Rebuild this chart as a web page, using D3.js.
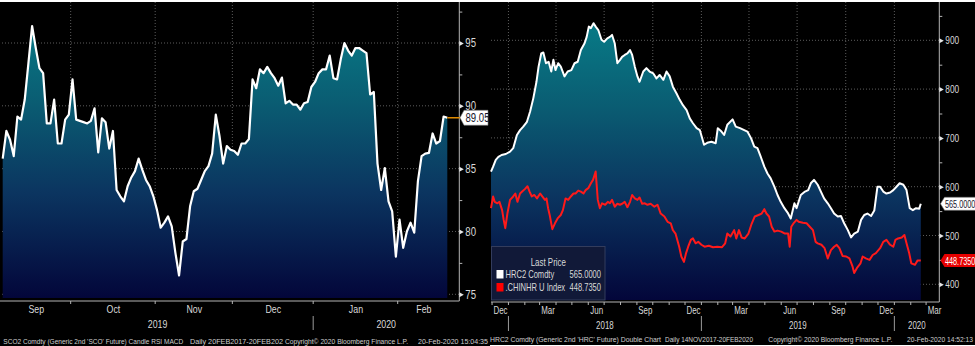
<!DOCTYPE html>
<html><head><meta charset="utf-8">
<script src="https://cdn.jsdelivr.net/npm/d3@7"></script>
<style>
html,body{margin:0;padding:0;background:#fff;}
svg{display:block;}
text{font-family:"Liberation Sans",Arial,sans-serif;}
</style></head><body>
<svg id="c" width="975" height="346"></svg>
<script>
// ---------------- LEFT CHART: SCO2 Comdty (daily sessions) ----------------
const scoStart = "2019-09-04";
const scoEnd = "2020-02-20";
const scoValues = [85.8,88.0,87.3,86.0,89.15,88.9,90.5,93.4,96.35,94.6,
  93.0,92.6,88.6,88.6,90.5,87.0,87.0,88.9,89.3,92.1,
  88.9,88.8,88.7,88.6,88.8,89.8,86.3,89.0,88.7,86.6,
  88.0,83.3,82.8,82.4,83.6,84.3,84.8,85.8,84.9,84.1,
  83.6,82.8,81.7,80.3,80.7,81.2,80.4,78.3,76.5,79.2,
  79.4,82.0,83.2,83.4,84.1,84.8,85.2,86.2,89.3,87.6,
  85.4,86.8,86.5,86.4,86.1,87.0,87.0,87.35,92.1,91.4,
  92.9,92.6,93.1,92.6,92.2,91.6,92.25,90.2,90.4,90.1,
  90.1,89.7,90.2,90.3,91.5,91.9,92.6,92.9,92.9,94.0,
  92.2,92.1,93.7,95.0,94.4,94.0,94.6,94.6,94.4,94.2,
  90.9,91.1,85.4,83.3,85.05,82.4,81.6,78.0,80.95,78.7,
  80.0,80.7,79.9,84.0,86.0,86.2,86.25,87.8,87.0,87.2,
  89.15,89.05];
const scoLast = "89.05";
const scoYTicks = [75,80,85,90,95];
const scoYMinor = [77.5,82.5,87.5,92.5,97.5];
const scoMonths = ["Sep","Oct","Nov","Dec","Jan","Feb"];
const scoYears = ["2019","2020"];
const scoFooter = ["SCO2 Comdty (Generic 2nd 'SCO' Future) Candle RSI MACD","Daily 20FEB2017-20FEB202","Copyright\u00A9 2020 Bloomberg Finance L.P.","20-Feb-2020 15:04:35"];

// ---------------- RIGHT CHART: HRC2 Comdty & .CHINHR U Index ----------------
const hrcDates = ["2017-11-29","2017-12-03","2017-12-08","2017-12-13","2017-12-19","2017-12-27","2018-01-04","2018-01-10","2018-01-17","2018-01-23",
"2018-01-29","2018-02-05","2018-02-11","2018-02-17","2018-02-23","2018-02-27","2018-03-04","2018-03-08","2018-03-13","2018-03-18",
"2018-03-23","2018-03-27","2018-03-31","2018-04-05","2018-04-10","2018-04-17","2018-04-23","2018-04-30","2018-05-06","2018-05-12",
"2018-05-18","2018-05-25","2018-05-29","2018-06-02","2018-06-06","2018-06-11","2018-06-15","2018-06-20","2018-06-26","2018-07-01",
"2018-07-07","2018-07-12","2018-07-16","2018-07-21","2018-07-26","2018-07-31","2018-08-04","2018-08-09","2018-08-14","2018-08-19",
"2018-08-23","2018-08-28","2018-09-02","2018-09-06","2018-09-13","2018-09-19","2018-09-25","2018-10-02","2018-10-08","2018-10-14",
"2018-10-21","2018-10-27","2018-11-02","2018-11-08","2018-11-15","2018-11-21","2018-11-27","2018-12-04","2018-12-10","2018-12-16",
"2018-12-23","2018-12-29","2019-01-06","2019-01-12","2019-01-20","2019-01-28","2019-02-01","2019-02-08","2019-02-13","2019-02-19",
"2019-03-01","2019-03-07","2019-03-15","2019-03-23","2019-03-29","2019-04-05","2019-04-11","2019-04-17","2019-04-23","2019-04-30",
"2019-05-06","2019-05-12","2019-05-19","2019-05-25","2019-05-31","2019-06-07","2019-06-13","2019-06-19","2019-06-26","2019-06-30",
"2019-07-08","2019-07-16","2019-07-22","2019-07-27","2019-08-02","2019-08-09","2019-08-15","2019-08-21","2019-08-28","2019-09-03",
"2019-09-09","2019-09-16","2019-09-22","2019-09-28","2019-10-05","2019-10-11","2019-10-17","2019-10-24","2019-10-30","2019-11-05",
"2019-11-11","2019-11-18","2019-11-24","2019-11-30","2019-12-05","2019-12-11","2019-12-17","2019-12-24","2019-12-30","2020-01-05",
"2020-01-11","2020-01-18","2020-01-24","2020-01-30","2020-02-05","2020-02-11","2020-02-17","2020-02-20"];
const hrcValues = [631,641,655,661,665,667,672,679,706,716,
723,733,754,781,815,846,873,875,853,856,
836,860,839,853,846,826,836,839,853,856,
880,894,907,928,925,935,928,921,901,897,
904,907,911,894,853,860,866,870,873,880,
870,846,826,815,836,843,836,832,822,829,
819,836,826,805,791,778,767,757,740,730,
720,716,686,690,692,689,720,713,706,727,
738,723,720,716,713,699,682,679,662,641,
627,617,600,583,569,556,547,535,566,556,
583,590,593,607,614,604,590,576,566,556,
545,539,540,525,511,496,504,508,532,542,
545,540,551,600,600,590,586,588,593,600,
607,604,593,556,552,556,555,565];
const chinDates = ["2017-11-29","2017-12-03","2017-12-06","2017-12-11","2017-12-15","2017-12-20","2017-12-23","2017-12-26","2017-12-30","2018-01-04",
"2018-01-10","2018-01-14","2018-01-18","2018-01-23","2018-01-27","2018-02-01","2018-02-06","2018-02-10","2018-02-14","2018-02-19",
"2018-02-24","2018-03-02","2018-03-06","2018-03-11","2018-03-14","2018-03-17","2018-03-20","2018-03-25","2018-03-30","2018-04-04",
"2018-04-10","2018-04-14","2018-04-19","2018-04-24","2018-04-29","2018-05-04","2018-05-08","2018-05-13","2018-05-18","2018-05-23",
"2018-05-27","2018-06-01","2018-06-06","2018-06-10","2018-06-15","2018-06-19","2018-06-23","2018-06-27","2018-07-03","2018-07-08",
"2018-07-12","2018-07-16","2018-07-21","2018-07-26","2018-07-31","2018-08-04","2018-08-09","2018-08-14","2018-08-19","2018-08-23",
"2018-08-28","2018-09-02","2018-09-06","2018-09-11","2018-09-16","2018-09-21","2018-09-27","2018-10-04","2018-10-10","2018-10-16",
"2018-10-23","2018-10-29","2018-11-04","2018-11-08","2018-11-13","2018-11-20","2018-11-24","2018-11-29","2018-12-03","2018-12-07",
"2018-12-12","2018-12-16","2018-12-21","2018-12-26","2019-01-01","2019-01-07","2019-01-15","2019-01-23","2019-01-31","2019-02-09",
"2019-02-15","2019-02-19","2019-02-25","2019-03-04","2019-03-08","2019-03-13","2019-03-18","2019-03-24","2019-03-31","2019-04-06",
"2019-04-12","2019-04-19","2019-04-25","2019-04-30","2019-05-04","2019-05-09","2019-05-14","2019-05-19","2019-05-25","2019-06-01",
"2019-06-08","2019-06-14","2019-06-17","2019-06-20","2019-06-25","2019-06-30","2019-07-04","2019-07-12","2019-07-19","2019-07-25",
"2019-07-31","2019-08-05","2019-08-09","2019-08-16","2019-08-22","2019-08-28","2019-09-03","2019-09-09","2019-09-14","2019-09-19",
"2019-09-25","2019-10-02","2019-10-08","2019-10-14","2019-10-17","2019-10-22","2019-10-29","2019-11-02","2019-11-08","2019-11-15",
"2019-11-21","2019-11-27","2019-12-05","2019-12-11","2019-12-17","2019-12-24","2019-12-30","2020-01-03","2020-01-08","2020-01-15",
"2020-01-20","2020-01-24","2020-01-29","2020-02-02","2020-02-09","2020-02-14","2020-02-20"];
const chinValues = [556,580,569,566,569,552,532,515,545,573,
580,586,569,586,590,595,601,590,580,583,
576,586,580,573,576,556,542,513,525,535,
542,552,576,573,580,586,586,592,590,586,
593,597,607,614,631,573,556,566,563,569,
566,573,559,565,563,565,569,558,569,583,
576,573,578,565,566,563,565,559,563,545,
539,528,525,511,504,477,457,446,464,477,
491,494,484,487,481,477,479,476,477,476,
484,504,498,511,494,511,496,494,504,524,
539,542,545,554,545,539,518,508,510,508,
504,504,477,518,526,532,528,526,525,518,
511,487,484,481,474,453,470,477,481,474,
458,457,453,436,423,433,443,457,453,450,
460,464,474,487,491,481,477,491,494,496,
501,484,464,443,440,449,448.735];
const hrcName = "HRC2 Comdty", hrcLast = "565.0000";
const chinName = ".CHINHR U Index", chinLast = "448.7350";
const hrcYTicks = [400,500,600,700,800,900];
const hrcYMinor = [450,550,650,750,850,950];
const hrcFooter = ["HRC2 Comdty (Generic 2nd 'HRC' Future) Double Chart","Daily 14NOV2017-20FEB2020","Copyright\u00A9 2020 Bloomberg Finance L.P.","20-Feb-2020 14:52:13"];

// ---------------- DRAW ----------------
const svg = d3.select("#c");
const parse = d3.timeParse("%Y-%m-%d");
const LABEL = "#d9d9d9", GRID = "#5c5c5c", AXIS = "#b4b4b4";

const defs = svg.append("defs");
function grad(id, y1, y2){
  const g = defs.append("linearGradient").attr("id", id).attr("gradientUnits","userSpaceOnUse")
    .attr("x1",0).attr("x2",0).attr("y1",y1).attr("y2",y2);
  [[0,"#087a86"],[0.3,"#0a5c72"],[0.62,"#0b3560"],[1,"#03063a"]].forEach(s =>
    g.append("stop").attr("offset",s[0]).attr("stop-color",s[1]));
}
grad("gL", 20, 298);
grad("gR", 25, 300);

svg.append("rect").attr("width",975).attr("height",346).attr("fill","#fff");
svg.append("rect").attr("x",0).attr("y",2).attr("width",490).attr("height",344).attr("fill","#000");
svg.append("rect").attr("x",490).attr("y",2).attr("width",485).attr("height",343).attr("fill","#000");

// ===== Left =====
const L = {x0:2, x1:459.3, y0:2, y1:298, axisY:301};
const scoDates = d3.timeDay.range(parse(scoStart), d3.timeDay.offset(parse(scoEnd),1)).filter(d => d.getDay()%6 !== 0);
const xL = d3.scaleLinear().domain([0, scoValues.length-1]).range([2.7, 447.3]);
const yL = d3.scaleLinear().domain([75,95]).range([294.3, 43]);
const gL = svg.append("g");

const monthStartsL = [];
scoDates.forEach((d,i) => { if (i>0 && d.getMonth() !== scoDates[i-1].getMonth()) monthStartsL.push(i); });
const bnds = [0, ...monthStartsL, scoDates.length];
const monthMidL = bnds.slice(0,-1).map((s,k) => (s + bnds[k+1]-1)/2);

gL.append("g").selectAll("line").data(scoYTicks).join("line")
  .attr("x1",L.x0).attr("x2",L.x1).attr("y1",d=>yL(d)).attr("y2",d=>yL(d))
  .attr("stroke",GRID).attr("stroke-dasharray","1,2");
gL.append("g").selectAll("line").data(monthStartsL).join("line")
  .attr("x1",d=>xL(d-0.5)).attr("x2",d=>xL(d-0.5)).attr("y1",L.y0).attr("y2",L.y1)
  .attr("stroke",GRID).attr("stroke-dasharray","1,2");

gL.append("path").datum(scoValues)
  .attr("d", d3.area().x((d,i)=>xL(i)).y0(L.y1).y1(d=>yL(d)))
  .attr("fill","url(#gL)");
gL.append("path").datum(scoValues)
  .attr("d", d3.line().x((d,i)=>xL(i)).y(d=>yL(d)))
  .attr("fill","none").attr("stroke","#fff").attr("stroke-width",2.2).attr("stroke-linejoin","round");

gL.append("line").attr("x1",L.x1).attr("x2",L.x1).attr("y1",2).attr("y2",L.axisY).attr("stroke",AXIS);
gL.append("line").attr("x1",0).attr("x2",L.x1).attr("y1",L.axisY).attr("y2",L.axisY).attr("stroke",AXIS);

const ayL = gL.append("g").attr("transform",`translate(${L.x1},0)`)
  .call(d3.axisRight(yL).tickValues(scoYTicks).tickSize(0).tickPadding(6));
ayL.select(".domain").remove();
ayL.selectAll("text").attr("fill",LABEL).style("font-size","12px").attr("font-family",null).classed("cn",true);
ayL.selectAll(".tick").append("path").attr("d","M0,-2.5L4.5,0L0,2.5Z").attr("fill","#e6e6e6");
const amL = gL.append("g").attr("transform",`translate(${L.x1},0)`)
  .call(d3.axisRight(yL).tickValues(scoYMinor).tickSize(3).tickFormat(""));
amL.select(".domain").remove();
amL.selectAll("line").attr("stroke",AXIS);

gL.append("g").selectAll("line").data(monthStartsL).join("line")
  .attr("x1",d=>xL(d-0.5)).attr("x2",d=>xL(d-0.5)).attr("y1",L.axisY).attr("y2",L.axisY+3).attr("stroke",AXIS);
const axL = gL.append("g").attr("transform",`translate(0,${L.axisY})`)
  .call(d3.axisBottom(xL).tickValues(monthMidL).tickSize(0).tickPadding(4).tickFormat((d,i)=>scoMonths[i]));
axL.select(".domain").remove();
axL.selectAll("text").attr("fill",LABEL).style("font-size","11px").attr("font-family",null).classed("cn",true);

const yearStartL = monthStartsL[scoMonths.indexOf("Jan")-1];
const yrPosL = [(L.x0 + xL(yearStartL-0.5))/2, (xL(yearStartL-0.5)+L.x1)/2];
gL.append("g").selectAll("text").data(scoYears).join("text")
  .attr("x",(d,i)=>yrPosL[i]).attr("y",327.5).attr("text-anchor","middle").classed("cn",true)
  .attr("fill",LABEL).style("font-size","11px").text(d=>d);
gL.append("line").attr("x1",xL(yearStartL-0.5)).attr("x2",xL(yearStartL-0.5)).attr("y1",316).attr("y2",330).attr("stroke","#9a9a9a");

const lastYL = yL(scoValues[scoValues.length-1]);
gL.append("line").attr("x1",xL(scoValues.length-1)).attr("x2",461).attr("y1",lastYL).attr("y2",lastYL)
  .attr("stroke","#e08a00").attr("stroke-width",1.5);
gL.append("path").attr("d",`M460,${lastYL}L464,${lastYL-7.5}H488V${lastYL+7.5}H464Z`)
  .attr("fill","#fff").attr("stroke","#777").attr("stroke-width",0.6);
gL.append("text").attr("x",465.5).attr("y",lastYL+4.2).attr("fill","#14142a").style("font-size","12px").classed("cn",true).text(scoLast);

const footL = [[3.3,180],[190,93],[285,123],[418,70]];
gL.append("g").selectAll("text").data(scoFooter).join("text")
  .attr("x",(d,i)=>footL[i][0]).attr("y",343.5).attr("textLength",(d,i)=>footL[i][1]).attr("lengthAdjust","spacingAndGlyphs")
  .attr("fill","#cfcfcf").style("font-size","7.5px").text(d=>d);

// ===== Right =====
const R = {x0:491, x1:939.3, y0:2, y1:300, axisY:302};
const xR = d3.scaleTime().domain([new Date(2017,10,29), new Date(2020,2,26)]).range([R.x0, R.x1]);
const yR = d3.scaleLinear().domain([400,900]).range([284.3, 40.3]);
const hrc = hrcDates.map((d,i)=>({date:parse(d), v:hrcValues[i]}));
const chin = chinDates.map((d,i)=>({date:parse(d), v:chinValues[i]}));
const gR = svg.append("g");

gR.append("g").selectAll("line").data(hrcYTicks).join("line")
  .attr("x1",R.x0).attr("x2",R.x1).attr("y1",d=>yR(d)).attr("y2",d=>yR(d))
  .attr("stroke",GRID).attr("stroke-dasharray","1,2");
const quarters = xR.ticks(d3.timeMonth.every(3));
gR.append("g").selectAll("line").data(quarters).join("line")
  .attr("x1",d=>xR(d)).attr("x2",d=>xR(d)).attr("y1",R.y0).attr("y2",R.y1)
  .attr("stroke",GRID).attr("stroke-dasharray","1,2");

gR.append("path").datum(hrc)
  .attr("d", d3.area().x(d=>xR(d.date)).y0(R.y1).y1(d=>yR(d.v)))
  .attr("fill","url(#gR)");

const lg = gR.append("g");
lg.append("rect").attr("x",491.5).attr("y",246.5).attr("width",113.5).attr("height",53.5)
  .attr("fill","#111938").attr("stroke","#333c5c").attr("stroke-width",1);

gR.append("path").datum(chin)
  .attr("d", d3.line().x(d=>xR(d.date)).y(d=>yR(d.v)))
  .attr("fill","none").attr("stroke","#ff1a1a").attr("stroke-width",2).attr("stroke-linejoin","round");
gR.append("path").datum(hrc)
  .attr("d", d3.line().x(d=>xR(d.date)).y(d=>yR(d.v)))
  .attr("fill","none").attr("stroke","#fff").attr("stroke-width",2).attr("stroke-linejoin","round");

lg.raise();
lg.append("text").attr("x",548.3).attr("y",265.5).attr("text-anchor","middle").attr("fill",LABEL).style("font-size","11px").classed("cnr",true).text("Last Price");
lg.append("rect").attr("x",496.5).attr("y",270).attr("width",7).attr("height",8.5).attr("fill","#fff");
lg.append("rect").attr("x",496.5).attr("y",283).attr("width",7).attr("height",8.5).attr("fill","#ff0000");
lg.append("text").attr("x",505.5).attr("y",278.3).attr("fill",LABEL).style("font-size","10.5px").classed("cnr",true).text(hrcName);
lg.append("text").attr("x",601).attr("y",278.3).attr("text-anchor","end").attr("fill",LABEL).style("font-size","10.5px").classed("cnr",true).text(hrcLast);
lg.append("text").attr("x",505.5).attr("y",291.3).attr("fill",LABEL).style("font-size","10.5px").classed("cnr",true).text(chinName);
lg.append("text").attr("x",601).attr("y",291.3).attr("text-anchor","end").attr("fill",LABEL).style("font-size","10.5px").classed("cnr",true).text(chinLast);

gR.append("line").attr("x1",R.x1).attr("x2",R.x1).attr("y1",2).attr("y2",R.axisY).attr("stroke",AXIS);
gR.append("line").attr("x1",R.x0).attr("x2",R.x1).attr("y1",R.axisY).attr("y2",R.axisY).attr("stroke",AXIS);

const ayR = gR.append("g").attr("transform",`translate(${R.x1},0)`)
  .call(d3.axisRight(yR).tickValues(hrcYTicks).tickSize(0).tickPadding(6));
ayR.select(".domain").remove();
ayR.selectAll("text").attr("fill",LABEL).style("font-size","11.5px").attr("font-family",null).classed("cnr",true);
ayR.selectAll(".tick").append("path").attr("d","M0,-2.5L4.5,0L0,2.5Z").attr("fill","#e6e6e6");
const amR = gR.append("g").attr("transform",`translate(${R.x1},0)`)
  .call(d3.axisRight(yR).tickValues(hrcYMinor).tickSize(3).tickFormat(""));
amR.select(".domain").remove();
amR.selectAll("line").attr("stroke",AXIS);

const monthsR = xR.ticks(d3.timeMonth.every(1));
gR.append("g").selectAll("line").data(monthsR).join("line")
  .attr("x1",d=>xR(d)).attr("x2",d=>xR(d)).attr("y1",R.axisY).attr("y2",R.axisY+3).attr("stroke",AXIS);
const labelMonthsR = monthsR.filter(d => d.getMonth()%3 === 2).map(d => new Date(d.getFullYear(), d.getMonth(), 16));
const axR = gR.append("g").attr("transform",`translate(0,${R.axisY})`)
  .call(d3.axisBottom(xR).tickValues(labelMonthsR).tickSize(0).tickPadding(4).tickFormat(d3.timeFormat("%b")));
axR.select(".domain").remove();
axR.selectAll("text").attr("fill",LABEL).style("font-size","11px").attr("font-family",null).classed("cnr",true);

const yearStartsR = xR.ticks(d3.timeYear.every(1));
const yrBounds = [R.x0, ...yearStartsR.map(d=>xR(d)), R.x1];
const yrLabels = yearStartsR.map(d=>d3.timeFormat("%Y")(d));
gR.append("g").selectAll("text").data(yrLabels).join("text")
  .attr("x",(d,i)=>(yrBounds[i+1]+yrBounds[i+2])/2).attr("y",328.5).attr("text-anchor","middle").classed("cnr",true)
  .attr("fill",LABEL).style("font-size","11px").text(d=>d);
gR.append("g").selectAll("line").data(yearStartsR).join("line")
  .attr("x1",d=>xR(d)).attr("x2",d=>xR(d)).attr("y1",316).attr("y2",331).attr("stroke","#9a9a9a");

const yH = yR(hrcValues[hrcValues.length-1]);
gR.append("path").attr("d",`M940.5,${yH}L944.5,${yH-6.5}H976V${yH+6.5}H944.5Z`)
  .attr("fill","#fff").attr("stroke","#777").attr("stroke-width",0.6);
gR.append("text").attr("x",945).attr("y",yH+4).attr("fill","#14142a").style("font-size","11px").classed("cnv",true).text(hrcLast);
const yC = yR(chinValues[chinValues.length-1]);
gR.append("path").attr("d",`M940.5,${yC}L944.5,${yC-6.5}H976V${yC+6.5}H944.5Z`).attr("fill","#e60000");
gR.append("text").attr("x",945).attr("y",yC+4).attr("fill","#fff").style("font-size","11px").classed("cnv",true).text(chinLast);

const footR = [[490,171],[665,88],[768.3,124],[907,66]];
gR.append("g").selectAll("text").data(hrcFooter).join("text")
  .attr("x",(d,i)=>footR[i][0]).attr("y",342).attr("textLength",(d,i)=>footR[i][1]).attr("lengthAdjust","spacingAndGlyphs")
  .attr("fill","#cfcfcf").style("font-size","7.5px").text(d=>d);

// condense label text (Bloomberg narrow face)
function condense(sel, f){
  sel.each(function(){
    const w = this.getComputedTextLength();
    d3.select(this).attr("textLength", (w*f).toFixed(2)).attr("lengthAdjust","spacingAndGlyphs");
  });
}
condense(svg.selectAll("text.cn"), 0.8);
condense(svg.selectAll("text.cnr"), 0.72);
condense(svg.selectAll("text.cnv"), 0.66);
</script>
</body></html>
